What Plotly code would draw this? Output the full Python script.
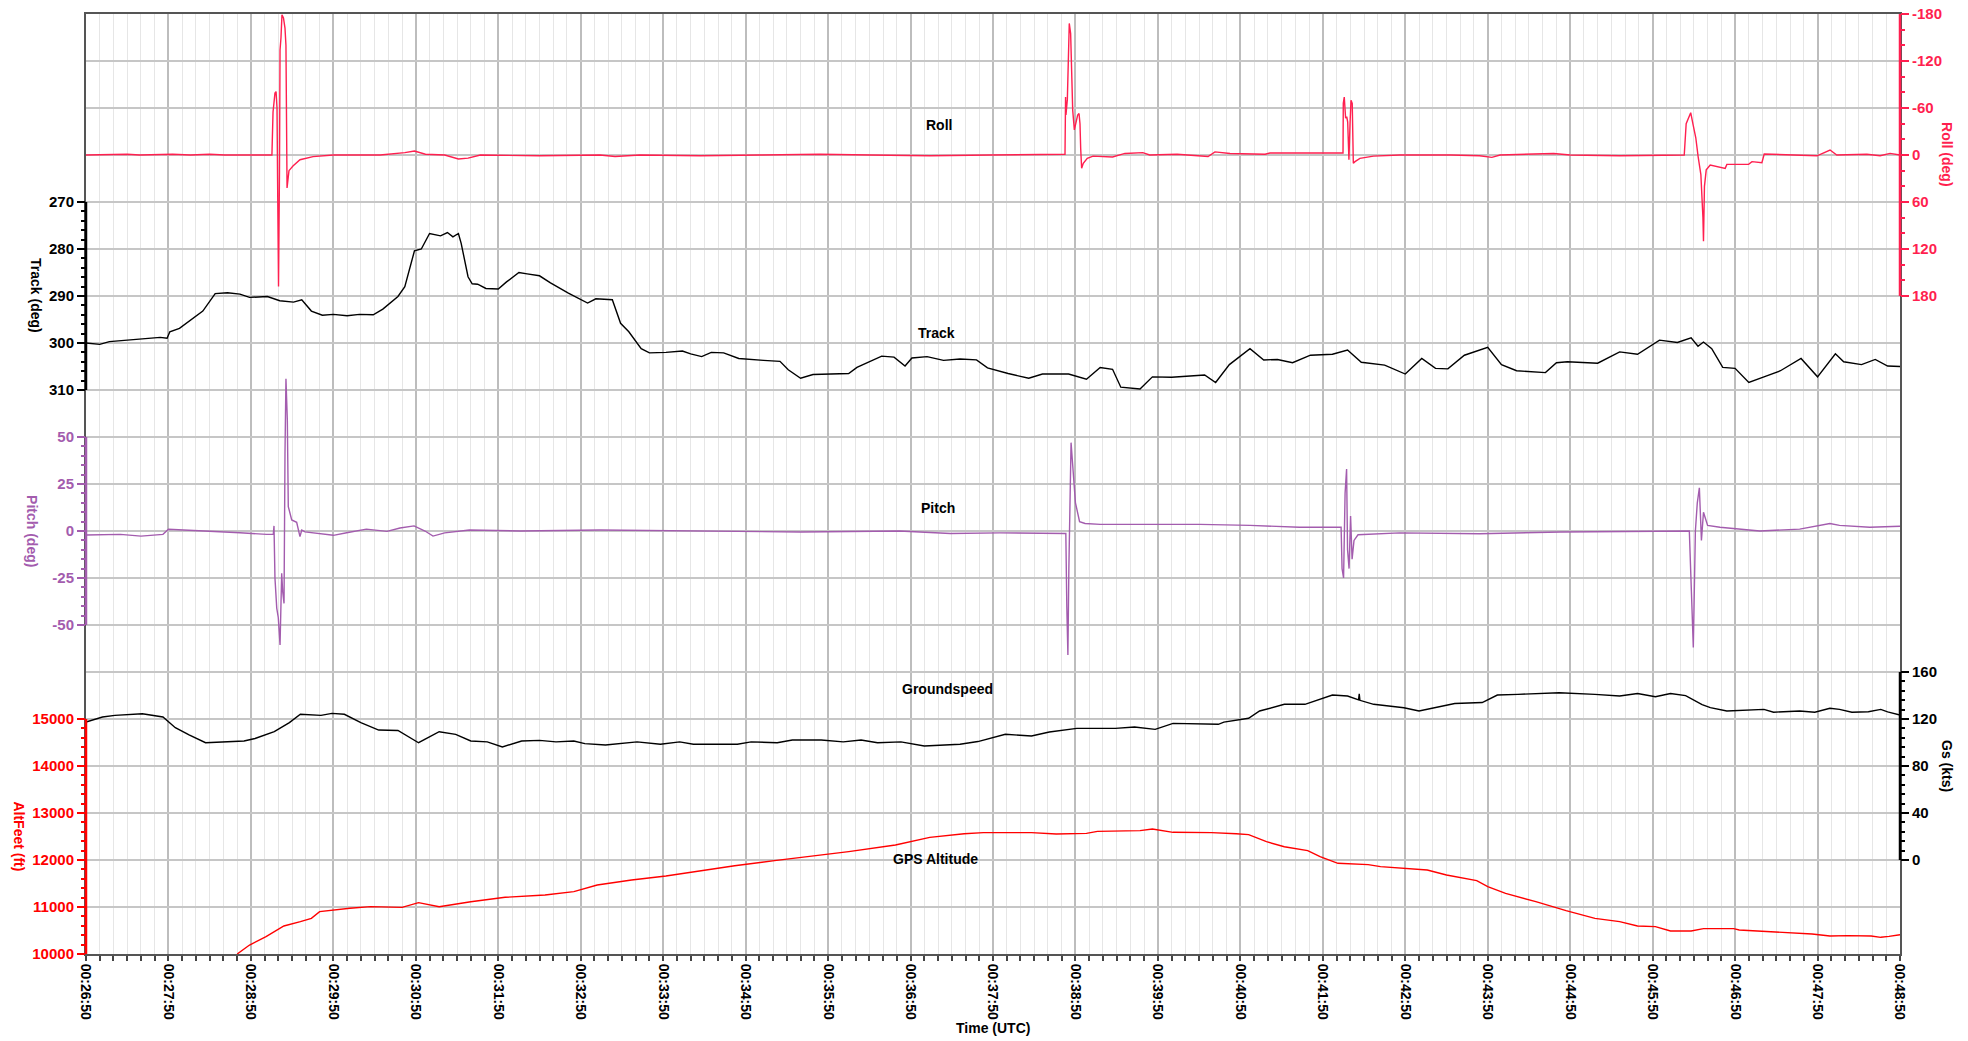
import plotly.graph_objects as go

DAY = "2000-01-01 "

# ---- flight log samples: (UTC time, value) ----
roll = [
    ("00:26:50", 0), ("00:27:20", -1), ("00:27:29", 0), ("00:27:53", -1), ("00:28:06", 0),
    ("00:28:20", -1), ("00:28:31", 0), ("00:29:00", -0.5), ("00:29:03.9", 0), ("00:29:05.3", 0),
    ("00:29:06.1", -55), ("00:29:07.5", -79), ("00:29:08.3", -81), ("00:29:09.0", -60),
    ("00:29:09.4", 30), ("00:29:10.1", 168), ("00:29:10.8", 20), ("00:29:11.2", -134),
    ("00:29:11.9", -150), ("00:29:12.6", -179), ("00:29:13.7", -175), ("00:29:14.8", -162),
    ("00:29:15.5", -140), ("00:29:16.3", 42), ("00:29:17.7", 20), ("00:29:20.6", 14),
    ("00:29:25.7", 6), ("00:29:35.2", 2), ("00:29:50", 0), ("00:30:24", 0), ("00:30:42", -3),
    ("00:30:49", -5), ("00:30:57", -1), ("00:31:11", 0), ("00:31:21", 5), ("00:31:28", 4),
    ("00:31:37", 0), ("00:32:20", 1), ("00:33:04", 0), ("00:33:15", 2), ("00:33:33", 0),
    ("00:34:17", 1), ("00:35:00", 0), ("00:35:44", -1), ("00:36:20", 0), ("00:37:04", 1),
    ("00:37:48", 0), ("00:38:17", -1), ("00:38:42.4", -1), ("00:38:42.8", -74),
    ("00:38:43.1", -51), ("00:38:44.1", -71), ("00:38:44.8", -138), ("00:38:45.5", -168),
    ("00:38:46.5", -155), ("00:38:47.3", -113), ("00:38:48.0", -57), ("00:38:49.2", -32),
    ("00:38:50.4", -40), ("00:38:51.6", -51), ("00:38:52.6", -53), ("00:38:53.3", -40),
    ("00:38:53.8", -8.5), ("00:38:54.5", 17), ("00:38:55.7", 10.6), ("00:38:58.6", 4.3),
    ("00:39:02.8", 1.4), ("00:39:17", 2.5), ("00:39:26", -2), ("00:39:39", -3), ("00:39:44", 0),
    ("00:40:04", -1), ("00:40:26.5", 2), ("00:40:31.5", -4), ("00:40:42.5", -2), ("00:41:08", -1),
    ("00:41:11.5", -2.5), ("00:42:04.7", -2.5), ("00:42:04.9", -66), ("00:42:05.6", -74),
    ("00:42:06.6", -47), ("00:42:07.4", -49), ("00:42:08.1", -42), ("00:42:09.0", 6),
    ("00:42:09.8", -40), ("00:42:10.5", -70), ("00:42:11.4", -66), ("00:42:12.2", 10.6),
    ("00:42:13.4", 8.5), ("00:42:17", 4.3), ("00:42:26.8", 1.4), ("00:42:46", 0),
    ("00:43:23", 0), ("00:43:44", 1), ("00:43:53", 3), ("00:43:59", 0), ("00:44:38", -2),
    ("00:44:50", 0), ("00:45:26", 1), ("00:45:55", 0), ("00:46:13", 0), ("00:46:14.4", -40),
    ("00:46:15.9", -46), ("00:46:17.7", -54), ("00:46:19.5", -38), ("00:46:21.4", -22),
    ("00:46:23.1", 2), ("00:46:25.1", 25), ("00:46:26.6", 80), ("00:46:27.0", 110),
    ("00:46:27.7", 40), ("00:46:29.0", 19), ("00:46:31.9", 12.8), ("00:46:36.7", 14.9),
    ("00:46:42.8", 17), ("00:46:44", 12), ("00:46:59.8", 12), ("00:47:02.3", 8.5),
    ("00:47:09.5", 9.8), ("00:47:11.2", -1.3), ("00:47:39.8", 1), ("00:47:49.6", 1),
    ("00:47:59.1", -6.4), ("00:48:04", 0), ("00:48:25.9", -1), ("00:48:35.5", 1),
    ("00:48:42.8", -2), ("00:48:50", 0),
]

track = [
    ("00:26:50", 300.0), ("00:27:00", 300.3), ("00:27:07", 299.7), ("00:27:24", 299.3),
    ("00:27:44", 298.8), ("00:27:49", 299.0), ("00:27:51", 297.6), ("00:27:58", 296.9),
    ("00:28:07", 294.9), ("00:28:15", 293.2), ("00:28:24", 289.5), ("00:28:33", 289.3),
    ("00:28:42", 289.6), ("00:28:49", 290.3), ("00:29:02", 290.1), ("00:29:11", 291.0),
    ("00:29:21", 291.3), ("00:29:27", 290.8), ("00:29:34", 293.2), ("00:29:42", 294.1),
    ("00:29:50", 293.9), ("00:30:00", 294.2), ("00:30:09", 293.9), ("00:30:19", 294.0),
    ("00:30:26", 292.8), ("00:30:37", 290.1), ("00:30:42", 288.0), ("00:30:49", 280.4),
    ("00:30:54", 280.0), ("00:31:00", 276.7), ("00:31:08", 277.2), ("00:31:13", 276.5),
    ("00:31:17", 277.4), ("00:31:21", 276.7), ("00:31:23", 278.8), ("00:31:28", 285.9),
    ("00:31:31", 287.4), ("00:31:35", 287.5), ("00:31:41", 288.4), ("00:31:50", 288.5),
    ("00:31:56", 287.0), ("00:32:05", 285.0), ("00:32:11", 285.3), ("00:32:20", 285.7),
    ("00:32:28", 287.2), ("00:32:41", 289.4), ("00:32:55", 291.5), ("00:33:01", 290.6),
    ("00:33:13", 290.8), ("00:33:19", 295.8), ("00:33:25", 297.6), ("00:33:34", 301.2),
    ("00:33:40", 302.1), ("00:33:52", 302.0), ("00:34:04", 301.7), ("00:34:10", 302.3),
    ("00:34:18", 302.9), ("00:34:25", 302.0), ("00:34:34", 302.1), ("00:34:45", 303.3),
    ("00:35:03", 303.7), ("00:35:15", 303.9), ("00:35:21", 305.7), ("00:35:30", 307.5),
    ("00:35:39", 306.7), ("00:35:54", 306.6), ("00:36:05", 306.5), ("00:36:11", 305.2),
    ("00:36:21", 303.9), ("00:36:29", 302.8), ("00:36:38", 303.0), ("00:36:46", 304.9),
    ("00:36:51", 303.2), ("00:37:02", 302.9), ("00:37:14", 303.7), ("00:37:26", 303.4),
    ("00:37:38", 303.6), ("00:37:46", 305.3), ("00:38:01", 306.5), ("00:38:16", 307.5),
    ("00:38:26", 306.6), ("00:38:45", 306.6), ("00:38:58", 307.7), ("00:39:08", 305.2),
    ("00:39:17", 305.6), ("00:39:23", 309.4), ("00:39:37", 309.8), ("00:39:46", 307.2),
    ("00:40:00", 307.3), ("00:40:24", 306.8), ("00:40:32", 308.4), ("00:40:42", 304.6),
    ("00:40:57", 301.2), ("00:41:07", 303.6), ("00:41:17", 303.5), ("00:41:28", 304.2),
    ("00:41:41", 302.6), ("00:41:57", 302.4), ("00:42:08", 301.5), ("00:42:18", 304.1),
    ("00:42:35", 304.7), ("00:42:50", 306.6), ("00:43:02", 303.3), ("00:43:12", 305.4),
    ("00:43:21", 305.5), ("00:43:33", 302.6), ("00:43:50", 300.9), ("00:44:00", 304.6),
    ("00:44:11", 305.9), ("00:44:32", 306.3), ("00:44:40", 304.2), ("00:44:48", 304.0),
    ("00:45:10", 304.3), ("00:45:26", 301.9), ("00:45:39", 302.4), ("00:45:55", 299.4),
    ("00:46:08", 299.9), ("00:46:18", 298.9), ("00:46:23", 300.7), ("00:46:27", 299.8),
    ("00:46:33", 301.2), ("00:46:41", 305.2), ("00:46:50", 305.4), ("00:47:00", 308.4),
    ("00:47:11", 307.2), ("00:47:23", 305.9), ("00:47:38", 303.3), ("00:47:50", 307.2),
    ("00:48:03", 302.3), ("00:48:09", 304.0), ("00:48:22", 304.6), ("00:48:32", 303.5),
    ("00:48:41", 304.9), ("00:48:50", 305.0),
]

pitch = [
    ("00:26:50", -2.1), ("00:27:15", -1.8), ("00:27:30", -2.7), ("00:27:46", -1.8),
    ("00:27:50", 0.9), ("00:28:03", 0.5), ("00:28:22", -0.4), ("00:28:42", -0.9),
    ("00:29:01.5", -1.8), ("00:29:06.3", -1.8), ("00:29:06.8", 2.7), ("00:29:07.5", -25),
    ("00:29:08.8", -41), ("00:29:09.9", -46), ("00:29:11.2", -60.6), ("00:29:12.4", -22.5),
    ("00:29:13.1", -32), ("00:29:14.1", -38.5), ("00:29:14.8", 41), ("00:29:15.5", 81),
    ("00:29:16.5", 59), ("00:29:17.2", 13), ("00:29:19.7", 5.9), ("00:29:23.3", 4.6),
    ("00:29:25.7", -3), ("00:29:27", 0.5), ("00:29:29.4", -0.5), ("00:29:40", -1.4),
    ("00:29:50", -2.3), ("00:29:59.7", -0.9), ("00:30:14", 1), ("00:30:29", -0.2),
    ("00:30:38.5", 1.6), ("00:30:48.7", 2.7), ("00:30:56.7", 0), ("00:31:02.5", -2.7),
    ("00:31:11", -1), ("00:31:29", 0.5), ("00:32:06", 0), ("00:33:04", 0.5), ("00:34:17", 0),
    ("00:35:30", -0.5), ("00:36:42", 0), ("00:37:19", -1.3), ("00:37:55", -1),
    ("00:38:42", -1.3), ("00:38:43.0", -1.3), ("00:38:43.7", -40), ("00:38:44.5", -66),
    ("00:38:45.2", -20), ("00:38:46.0", 20), ("00:38:46.8", 47), ("00:38:48", 35),
    ("00:38:50", 15), ("00:38:53", 5), ("00:38:57", 4), ("00:39:08", 3.5),
    ("00:40:20.6", 3.5), ("00:40:57", 3), ("00:41:33", 2), ("00:42:02.5", 2),
    ("00:42:03.3", 2), ("00:42:04", -20), ("00:42:05.1", -25), ("00:42:06.2", 20),
    ("00:42:07.3", 33), ("00:42:08", -10), ("00:42:09.1", -20), ("00:42:10.2", 8),
    ("00:42:11.3", -15), ("00:42:12.7", -5), ("00:42:15.6", -2), ("00:42:46", -1),
    ("00:43:44", -1.5), ("00:44:43", -0.5), ("00:45:41", 0), ("00:46:10", 0),
    ("00:46:16.7", 0), ("00:46:18.2", -32), ("00:46:19.6", -62), ("00:46:21.1", 0),
    ("00:46:22.5", 15), ("00:46:24", 23), ("00:46:25.5", -5), ("00:46:27", 10),
    ("00:46:30", 3), ("00:46:39", 2), ("00:47:08", 0), ("00:47:37", 1), ("00:47:59", 4),
    ("00:48:06", 3), ("00:48:28", 2), ("00:48:50", 2.5),
]

groundspeed = [
    ("00:26:50", 117.4), ("00:26:54", 118.9), ("00:27:02", 121.7), ("00:27:11", 123.1),
    ("00:27:31", 124.5), ("00:27:46", 121.7), ("00:27:55", 112.6), ("00:28:05", 106.4),
    ("00:28:17", 99.8), ("00:28:45", 101.3), ("00:28:53", 103.4), ("00:29:07", 109.2),
    ("00:29:18", 116.9), ("00:29:26", 124.0), ("00:29:41", 123.1), ("00:29:49", 124.8),
    ("00:29:58", 124.0), ("00:30:10", 116.9), ("00:30:23", 110.6), ("00:30:37", 110.2),
    ("00:30:52", 99.8), ("00:31:07", 109.2), ("00:31:19", 106.9), ("00:31:30", 101.3),
    ("00:31:42", 100.5), ("00:31:53", 96.2), ("00:32:07", 101.3), ("00:32:20", 101.8),
    ("00:32:32", 100.5), ("00:32:45", 101.3), ("00:32:53", 99.0), ("00:33:08", 97.9),
    ("00:33:31", 100.5), ("00:33:48", 98.5), ("00:34:02", 100.5), ("00:34:12", 98.5),
    ("00:34:44", 98.5), ("00:34:54", 100.5), ("00:35:13", 99.8), ("00:35:24", 102.1),
    ("00:35:45", 102.1), ("00:36:01", 100.5), ("00:36:14", 102.1), ("00:36:26", 99.8),
    ("00:36:43", 100.5), ("00:37:00", 97.0), ("00:37:16", 97.9), ("00:37:26", 98.5),
    ("00:37:39", 100.8), ("00:37:59", 107.0), ("00:38:18", 105.5), ("00:38:31", 108.9),
    ("00:38:51", 112.0), ("00:39:19", 112.0), ("00:39:33", 113.2), ("00:39:48", 111.2),
    ("00:40:01", 116.3), ("00:40:34", 115.5), ("00:40:38", 117.3), ("00:40:56", 120.6),
    ("00:41:04", 126.8), ("00:41:22", 132.5), ("00:41:37", 132.5), ("00:41:48", 136.7),
    ("00:41:57", 140.4), ("00:42:08", 139.6), ("00:42:16", 136.3), ("00:42:16.5", 141.4),
    ("00:42:17", 135.9), ("00:42:27", 132.5), ("00:42:49", 129.6), ("00:43:00", 126.8),
    ("00:43:15", 130.3), ("00:43:26", 133.2), ("00:43:46", 134.0), ("00:43:57", 140.4),
    ("00:44:12", 141.0), ("00:44:42", 142.4), ("00:45:08", 141.0), ("00:45:26", 139.6),
    ("00:45:39", 141.7), ("00:45:52", 138.9), ("00:46:03", 141.7), ("00:46:14", 139.9),
    ("00:46:26", 132.2), ("00:46:32", 129.7), ("00:46:44", 126.8), ("00:47:11", 128.2),
    ("00:47:18", 125.8), ("00:47:37", 126.8), ("00:47:48", 125.8), ("00:47:59", 129.1),
    ("00:48:06", 128.2), ("00:48:15", 125.8), ("00:48:27", 126.2), ("00:48:36", 128.2),
    ("00:48:41", 126.0), ("00:48:50", 123.4),
]

gps_altitude = [
    ("00:28:40", 10000), ("00:28:49", 10191), ("00:29:01", 10369), ("00:29:14", 10596),
    ("00:29:26", 10688), ("00:29:34", 10759), ("00:29:40", 10901), ("00:29:50", 10936),
    ("00:30:02", 10972), ("00:30:17", 11007), ("00:30:40", 10993), ("00:30:52", 11092),
    ("00:31:07", 11007), ("00:31:30", 11113), ("00:31:55", 11206), ("00:32:24", 11255),
    ("00:32:45", 11326), ("00:33:02", 11468), ("00:33:27", 11574), ("00:33:52", 11660),
    ("00:34:17", 11773), ("00:34:42", 11879), ("00:35:11", 11986), ("00:35:32", 12057),
    ("00:36:05", 12177), ("00:36:39", 12319), ("00:37:04", 12482), ("00:37:29", 12560),
    ("00:37:43", 12582), ("00:38:18", 12582), ("00:38:36", 12553), ("00:38:58", 12567),
    ("00:39:06", 12610), ("00:39:37", 12624), ("00:39:46", 12660), ("00:40:01", 12589),
    ("00:40:29", 12582), ("00:40:47", 12560), ("00:40:56", 12539), ("00:41:09", 12390),
    ("00:41:22", 12283), ("00:41:39", 12199), ("00:41:48", 12071), ("00:42:01", 11930),
    ("00:42:23", 11901), ("00:42:32", 11858), ("00:42:49", 11823), ("00:43:06", 11787),
    ("00:43:20", 11681), ("00:43:42", 11560), ("00:43:50", 11432), ("00:44:03", 11291),
    ("00:44:25", 11113), ("00:44:47", 10922), ("00:45:08", 10759), ("00:45:26", 10688),
    ("00:45:39", 10596), ("00:45:52", 10582), ("00:46:03", 10489), ("00:46:18", 10489),
    ("00:46:27", 10539), ("00:46:49", 10539), ("00:46:53", 10511), ("00:47:32", 10454),
    ("00:47:46", 10426), ("00:47:59", 10383), ("00:48:12", 10390), ("00:48:29", 10383),
    ("00:48:36", 10355), ("00:48:42", 10375), ("00:48:50", 10411),
]

# ---- axis tick values ----
roll_ticks = [-180, -120, -60, 0, 60, 120, 180]
track_ticks = [270, 280, 290, 300, 310]
pitch_ticks = [50, 25, 0, -25, -50]
gs_ticks = [160, 120, 80, 40, 0]
alt_ticks = [15000, 14000, 13000, 12000, 11000, 10000]

T_START, T_END = "00:26:50", "00:48:50"

ROLL_C = "#ff1f4f"
PITCH_C = "#a35cae"
ALT_C = "#ff0000"
INK = "#000000"
FONT = "Liberation Sans, Arial, sans-serif"


def stamp(times):
    return [DAY + t for t in times]


def split(samples):
    t, v = zip(*samples)
    return stamp(t), list(v)


def frange(a, b, step):
    out, v = [], a
    while v <= b + 1e-9:
        out.append(round(v, 6))
        v += step
    return out


fig = go.Figure()

# invisible anchor trace so the gridded base subplot is a real subplot
fig.add_trace(go.Scatter(x=[DAY + T_START], y=[0], yaxis="y", mode="lines",
                         line=dict(width=0), hoverinfo="skip", showlegend=False))

series = [
    ("Roll", roll, "y2", ROLL_C),
    ("Track", track, "y3", INK),
    ("Pitch", pitch, "y4", PITCH_C),
    ("Groundspeed", groundspeed, "y5", INK),
    ("GPS Altitude", gps_altitude, "y6", ALT_C),
]
for name, samples, yax, color in series:
    x, y = split(samples)
    fig.add_trace(go.Scatter(x=x, y=y, yaxis=yax, name=name, mode="lines",
                             line=dict(color=color, width=1.4), hoverinfo="skip",
                             showlegend=False))


def tickfont(c):
    return dict(family=FONT, size=15, color=c, weight="bold")


def value_axis(side, rng, ticks, minor_vals, color):
    return dict(
        overlaying="y", side=side, anchor="x", range=rng,
        tickmode="array", tickvals=ticks, ticktext=[str(t) for t in ticks],
        ticks="outside", ticklen=8, tickwidth=2,
        tickcolor=color, tickfont=tickfont(color), showgrid=False, zeroline=False,
        showline=False, fixedrange=True,
        minor=dict(tickmode="array", tickvals=minor_vals, ticks="outside", ticklen=4,
                   tickwidth=1.5, tickcolor=color, showgrid=False),
    )


fig.update_layout(
    width=1968, height=1041,
    margin=dict(l=86, r=68, t=14, b=87, autoexpand=False),
    paper_bgcolor="white", plot_bgcolor="rgba(0,0,0,0)",
    font=dict(family=FONT, color=INK),
    xaxis=dict(
        type="date", range=[DAY + T_START, DAY + T_END],
        tick0=DAY + T_START, dtick=60000, tickformat="%H:%M:%S", tickangle=90,
        tickfont=dict(family=FONT, size=14, color=INK, weight="bold"),
        ticks="outside", ticklen=5, tickwidth=1.5, tickcolor="#444",
        showgrid=True, gridcolor="#bdbdbd", gridwidth=1.5,
        minor=dict(tick0=DAY + T_START, dtick=10000, showgrid=True, gridcolor="#e6e6e6",
                   gridwidth=1, ticks="outside", ticklen=5, tickwidth=1.5, tickcolor="#444"),
        showline=True, linecolor="#555", linewidth=2, mirror=True,
        zeroline=False, fixedrange=True,
    ),
    yaxis=dict(
        range=[0, 20], tick0=0, dtick=1, showgrid=True, gridcolor="#c6c6c6", gridwidth=2,
        showticklabels=False, ticks="", zeroline=False, showline=True, linecolor="#555",
        linewidth=2, mirror=True, fixedrange=True,
    ),
    yaxis2=value_axis("right", [1020, -180], roll_ticks, frange(-180, 180, 20), ROLL_C),
    yaxis3=value_axis("left", [430, 230], track_ticks, frange(270, 310, 2), INK),
    yaxis4=value_axis("left", [-225, 275], pitch_ticks, frange(-50, 50, 5), PITCH_C),
    yaxis5=value_axis("right", [-80, 720], gs_ticks, frange(0, 160, 8), INK),
    yaxis6=value_axis("left", [10000, 30000], alt_ticks, frange(10000, 15000, 200), ALT_C),
)

# coloured axis spines covering each scale's labelled span
spines = [
    (1, "y2", -180, 180, ROLL_C),
    (0, "y3", 270, 310, INK),
    (0, "y4", -50, 50, PITCH_C),
    (1, "y5", 0, 160, INK),
    (0, "y6", 10000, 15000, ALT_C),
]
for xp, yref, a, b, c in spines:
    fig.add_shape(type="line", xref="paper", x0=xp, x1=xp, yref=yref, y0=a, y1=b,
                  line=dict(color=c, width=2.5), layer="above")

# axis titles
titles = [
    ("Roll (deg)", 1.0259, "y2", 0, ROLL_C),
    ("Track (deg)", -0.0276, "y3", 290, INK),
    ("Pitch (deg)", -0.0298, "y4", 0, PITCH_C),
    ("Gs (kts)", 1.0259, "y5", 80, INK),
    ("AltFeet (ft)", -0.0369, "y6", 12500, ALT_C),
]
for text, xp, yref, yv, c in titles:
    fig.add_annotation(text=text, x=xp, xref="paper", y=yv, yref=yref, textangle=90,
                       showarrow=False, xanchor="center", yanchor="middle",
                       font=dict(family=FONT, size=14, color=c, weight="bold"))

# series names inside the plot
series_labels = [
    ("Roll", "00:37:10.7", "y2", -38),
    ("Track", "00:37:09", "y3", 297.9),
    ("Pitch", "00:37:10", "y4", 12.2),
    ("Groundspeed", "00:37:17", "y5", 145.5),
    ("GPS Altitude", "00:37:08.5", "y6", 12021),
]
for text, t, yref, yv in series_labels:
    fig.add_annotation(text=text, x=DAY + t, xref="x", y=yv, yref=yref, showarrow=False,
                       xanchor="center", yanchor="middle",
                       font=dict(family=FONT, size=14, color=INK, weight="bold"))

fig.add_annotation(text="Time (UTC)", x=0.5, xref="paper", y=-0.0787, yref="paper",
                   showarrow=False, xanchor="center", yanchor="middle",
                   font=dict(family=FONT, size=14, color=INK, weight="bold"))

fig.write_html("out.html")
